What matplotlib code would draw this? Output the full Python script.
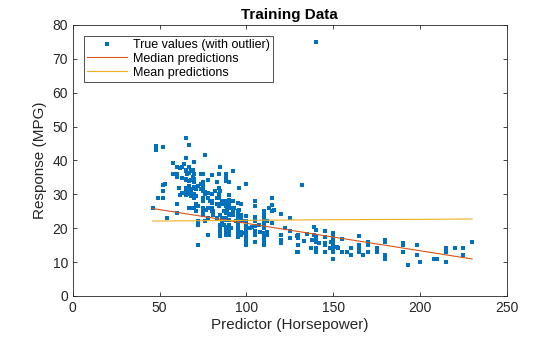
import matplotlib.pyplot as plt
import numpy as np

plt.rcParams['font.family'] = ['Liberation Sans', 'DejaVu Sans']

# carbig-style data: horsepower / MPG pairs
horsepower = [
    130, 165, 150, 150, 140, 198, 220, 215, 225, 190, 170, 160, 150, 225, 95, 95, 97, 85, 88, 46,
    87, 90, 95, 113, 90, 215, 200, 210, 193, 88, 90, 95, 100, 105, 100, 88, 100, 165, 175, 153,
    150, 180, 170, 175, 110, 72, 100, 88, 86, 90, 70, 76, 65, 69, 60, 70, 95, 80, 54, 90,
    86, 165, 175, 150, 153, 150, 208, 155, 160, 190, 97, 150, 130, 140, 150, 112, 76, 87, 69, 86,
    92, 97, 80, 88, 175, 150, 145, 137, 150, 198, 150, 158, 150, 215, 225, 175, 105, 100, 100, 88,
    95, 46, 150, 167, 170, 180, 100, 88, 72, 94, 90, 85, 107, 90, 145, 230, 49, 75, 91, 112,
    150, 110, 122, 180, 95, 100, 100, 67, 80, 65, 75, 100, 110, 105, 140, 150, 150, 140, 150, 83,
    67, 78, 52, 61, 75, 75, 75, 97, 93, 67, 95, 105, 72, 72, 170, 145, 150, 148, 110, 105,
    110, 95, 110, 110, 129, 75, 83, 100, 78, 96, 71, 97, 97, 70, 90, 95, 88, 98, 115, 53,
    86, 81, 92, 79, 83, 140, 150, 120, 152, 100, 105, 81, 90, 52, 60, 70, 53, 100, 78, 110,
    95, 71, 70, 75, 72, 102, 150, 88, 108, 120, 180, 145, 130, 150, 68, 80, 58, 96, 70, 145,
    110, 145, 130, 110, 105, 100, 98, 180, 170, 190, 149, 78, 88, 75, 89, 63, 83, 67, 78, 97,
    110, 110, 48, 66, 52, 70, 60, 110, 140, 139, 105, 95, 85, 88, 100, 90, 105, 85, 110, 120,
    145, 165, 139, 140, 68, 95, 97, 75, 95, 105, 85, 97, 103, 125, 115, 133, 71, 68, 115, 85,
    88, 90, 110, 130, 129, 138, 135, 155, 142, 125, 150, 71, 65, 80, 80, 77, 125, 71, 90, 70,
    70, 65, 69, 90, 115, 115, 90, 76, 60, 70, 65, 90, 88, 90, 90, 78, 90, 75, 92, 75,
    65, 105, 65, 48, 48, 67, 67, 67, 67, 62, 132, 100, 88, 72, 84, 84, 92, 110, 84, 58,
    64, 60, 67, 65, 62, 68, 63, 65, 65, 74, 75, 75, 100, 74, 80, 76, 116, 120, 110, 105,
    88, 85, 88, 88, 88, 85, 84, 90, 92, 74, 68, 68, 63, 70, 88, 75, 70, 67, 67, 67,
    110, 85, 92, 112, 96, 84, 90, 86, 52, 84, 79, 82,
    140,
]
mpg = [
    18, 15, 18, 16, 17, 15, 14, 14, 14, 15, 15, 14, 15, 14, 24, 22, 18, 21, 27, 26,
    25, 24, 25, 26, 21, 10, 10, 11, 9, 27, 28, 25, 19, 16, 17, 19, 18, 14, 14, 14,
    14, 12, 13, 13, 18, 22, 19, 18, 23, 28, 30, 30, 31, 35, 27, 26, 24, 25, 23, 20,
    21, 13, 14, 15, 14, 17, 11, 13, 12, 13, 19, 15, 13, 13, 14, 18, 22, 21, 26, 22,
    28, 23, 28, 27, 13, 14, 13, 14, 15, 12, 13, 13, 14, 13, 12, 13, 18, 16, 18, 18,
    23, 26, 11, 12, 13, 12, 18, 20, 21, 22, 18, 19, 21, 26, 15, 16, 29, 24, 20, 19,
    15, 24, 20, 11, 20, 19, 15, 31, 26, 32, 25, 16, 16, 18, 16, 13, 14, 14, 14, 29,
    26, 26, 31, 32, 28, 24, 26, 24, 26, 31, 19, 18, 15, 15, 16, 15, 16, 14, 17, 16,
    15, 18, 21, 20, 13, 29, 23, 20, 23, 24, 25, 24, 18, 29, 19, 23, 23, 22, 25, 33,
    28, 25, 25, 26, 27, 17.5, 16, 15.5, 14.5, 22, 22, 24, 22.5, 29, 24.5, 29, 33, 20, 18, 18.5,
    17.5, 29.5, 32, 28, 26.5, 20, 13, 19, 19, 16.5, 16.5, 13, 13, 13, 31.5, 30, 36, 25.5, 33.5, 17.5,
    17, 15.5, 15, 17.5, 20.5, 19, 18.5, 16, 15.5, 15.5, 16, 29, 24.5, 26, 25.5, 30.5, 33.5, 30, 30.5, 22,
    21.5, 21.5, 43.1, 36.1, 32.8, 39.4, 36.1, 19.9, 19.4, 20.2, 19.2, 20.5, 20.2, 25.1, 20.5, 19.4, 20.6, 20.8, 18.6, 18.1,
    19.2, 17.7, 18.1, 17.5, 30, 27.5, 27.2, 30.9, 21.1, 23.2, 23.8, 23.9, 20.3, 17, 21.6, 16.2, 31.5, 29.5, 21.5, 19.8,
    22.3, 20.2, 20.6, 17, 17.6, 16.5, 18.2, 16.9, 15.5, 19.2, 18.5, 31.9, 34.1, 35.7, 27.4, 25.4, 23, 27.2, 23.9, 34.2,
    34.5, 31.8, 37.3, 28.4, 28.8, 26.8, 33.5, 41.5, 38.1, 32.1, 37.2, 28, 26.4, 24.3, 19.1, 34.3, 29.8, 31.3, 37, 32.2,
    46.6, 27.9, 40.8, 44.3, 43.4, 36.4, 30, 44.6, 33.8, 29.8, 32.7, 23.7, 35, 32.4, 27.2, 26.6, 25.8, 23.5, 30, 39.1,
    39, 35.1, 32.3, 37, 37.7, 34.1, 34.7, 34.4, 29.9, 33, 33.7, 32.4, 32.9, 31.6, 28.1, 30.7, 25.4, 24.2, 22.4, 26.6,
    20.2, 17.6, 28, 27, 34, 31, 29, 27, 24, 36, 37, 31, 38, 36, 36, 36, 34, 38, 32, 38,
    25, 38, 26, 22, 32, 36, 27, 27, 44, 32, 28, 31,
    75,
]

# prediction lines
pred_x = [46, 230]
median_pred = [25.8, 10.9]
mean_x = [46, 75, 100, 150, 200, 230]
mean_pred = [22.1, 22.2, 22.3, 22.5, 22.6, 22.7]

fig = plt.figure(figsize=(5.6, 3.37), dpi=100)
ax = fig.add_axes([0.130, 0.122, 0.775, 0.804])

ax.plot(horsepower, mpg, 's', color='#0072BD', markersize=2.3, markeredgewidth=0,
        label='True values (with outlier)')
ax.plot(pred_x, median_pred, '-', color='#D95319', lw=0.8, label='Median predictions')
ax.plot(mean_x, mean_pred, '-', color='#EDB120', lw=0.8, label='Mean predictions')

ax.set_xlim(0, 250)
ax.set_ylim(0, 80)
ax.set_xticks(np.arange(0, 251, 50))
ax.set_yticks(np.arange(0, 81, 10))
ax.tick_params(direction='in', length=3, width=0.6, labelsize=10, colors='#262626',
               top=True, right=True)
for s in ax.spines.values():
    s.set_linewidth(0.6)
    s.set_color('#262626')

ax.set_title('Training Data', fontsize=11, fontweight='bold', color='black', pad=4)
ax.set_xlabel('Predictor (Horsepower)', fontsize=11, color='#262626', labelpad=2)
ax.set_ylabel('Response (MPG)', fontsize=11, color='#262626', labelpad=4)

leg = ax.legend(loc='upper left', bbox_to_anchor=(0.025, 0.96), fontsize=9,
                frameon=True, fancybox=False, handlelength=3.2, handletextpad=0.5,
                borderpad=0.25, labelspacing=0.15, borderaxespad=0)
leg.get_frame().set_edgecolor('black')
leg.get_frame().set_linewidth(0.6)

fig.savefig('out.png', dpi=100)
